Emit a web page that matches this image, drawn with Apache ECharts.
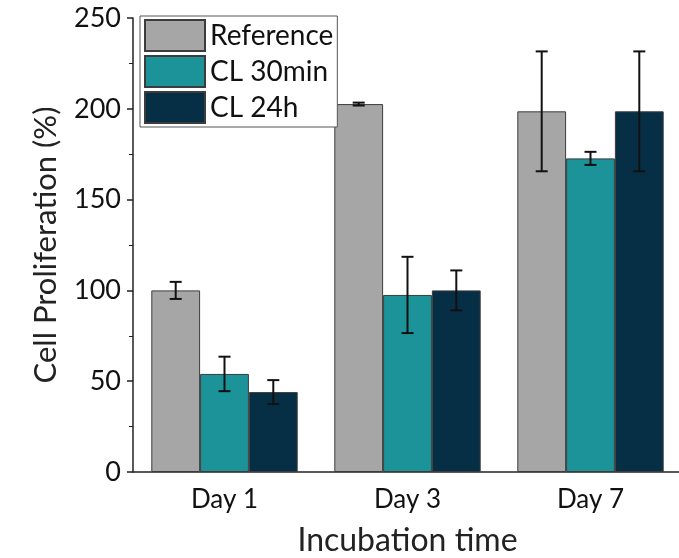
<!DOCTYPE html>
<html>
<head>
<meta charset="utf-8">
<script src="https://cdn.jsdelivr.net/npm/echarts@6/dist/echarts.min.js"></script>
<style>
html,body{margin:0;padding:0;background:#fff;}
#chart{width:679px;height:558px;}
</style>
</head>
<body>
<div id="chart"></div>
<script>
var days = ['Day 1', 'Day 3', 'Day 7'];
var refVals = [100, 202.6, 198.6];
var refErr = [4.7, 0.8, 33];
var cl30Vals = [54, 97.5, 172.7];
var cl30Err = [9.5, 21, 3.6];
var cl24Vals = [44, 100, 198.6];
var cl24Err = [6.6, 11, 33];

var names = ['Reference', 'CL 30min', 'CL 24h'];
var colors = ['#a6a6a6', '#1b9399', '#062f45'];
var font = 'Lato';

function errSeries(idx, vals, errs) {
    var data = [];
    for (var i = 0; i < vals.length; i++) {
        data.push([i, vals[i] - errs[i], vals[i] + errs[i]]);
    }
    return {
        type: 'custom',
        z: 10,
        silent: true,
        data: data,
        renderItem: function (params, api) {
            var cat = api.value(0);
            var lo = api.coord([cat, api.value(1)]);
            var hi = api.coord([cat, api.value(2)]);
            var band = api.size([1, 0])[0];
            var bw = band * 0.8 / 3;
            var x = lo[0] + (idx - 1) * bw;
            var cap = 6;
            var st = {stroke: '#111', lineWidth: 2};
            return {
                type: 'group',
                children: [
                    {type: 'line', shape: {x1: x, y1: lo[1], x2: x, y2: hi[1]}, style: st},
                    {type: 'line', shape: {x1: x - cap, y1: lo[1], x2: x + cap, y2: lo[1]}, style: st},
                    {type: 'line', shape: {x1: x - cap, y1: hi[1], x2: x + cap, y2: hi[1]}, style: st}
                ]
            };
        }
    };
}

function barSeries(i, vals) {
    return {
        name: names[i],
        type: 'bar',
        data: vals,
        barGap: '0%',
        barCategoryGap: '20%',
        itemStyle: {color: colors[i], borderColor: '#3c3c3c', borderWidth: 1}
    };
}

var myChart = echarts.init(document.getElementById('chart'));
var option = {
    animation: false,
    grid: {left: 133, top: 18, width: 549, bottom: 86, outerBoundsMode: 'none'},
    legend: {
        orient: 'vertical',
        left: 140,
        top: 16,
        icon: 'rect',
        itemWidth: 60,
        itemHeight: 31,
        itemGap: 3,
        padding: [3, 4, 3, 4],
        borderColor: '#555',
        borderWidth: 1,
        backgroundColor: '#fff',
        data: names,
        textStyle: {fontFamily: font, fontSize: 28, color: '#111'}
    },
    xAxis: {
        type: 'category',
        data: days,
        axisTick: {show: false},
        axisLine: {lineStyle: {color: '#222', width: 1.5}},
        axisLabel: {fontFamily: font, fontSize: 26, color: '#111', margin: 15},
        name: 'Incubation time',
        nameLocation: 'middle',
        nameGap: 53,
        nameTextStyle: {fontFamily: font, fontSize: 32, color: '#222'}
    },
    yAxis: {
        type: 'value',
        min: 0,
        max: 250,
        interval: 50,
        splitLine: {show: false},
        axisLine: {show: true, lineStyle: {color: '#222', width: 1.5}},
        axisTick: {show: true, inside: false, length: 6, lineStyle: {color: '#222', width: 1.5}},
        minorTick: {show: true, splitNumber: 2, length: 4, lineStyle: {color: '#222'}},
        axisLabel: {fontFamily: font, fontSize: 27, color: '#111', margin: 12},
        name: 'Cell Proliferation (%)',
        nameLocation: 'middle',
        nameGap: 72,
        nameTextStyle: {fontFamily: font, fontSize: 31, color: '#222'}
    },
    series: [
        barSeries(0, refVals),
        barSeries(1, cl30Vals),
        barSeries(2, cl24Vals),
        errSeries(0, refVals, refErr),
        errSeries(1, cl30Vals, cl30Err),
        errSeries(2, cl24Vals, cl24Err)
    ]
};
myChart.setOption(option);
</script>
</body>
</html>
